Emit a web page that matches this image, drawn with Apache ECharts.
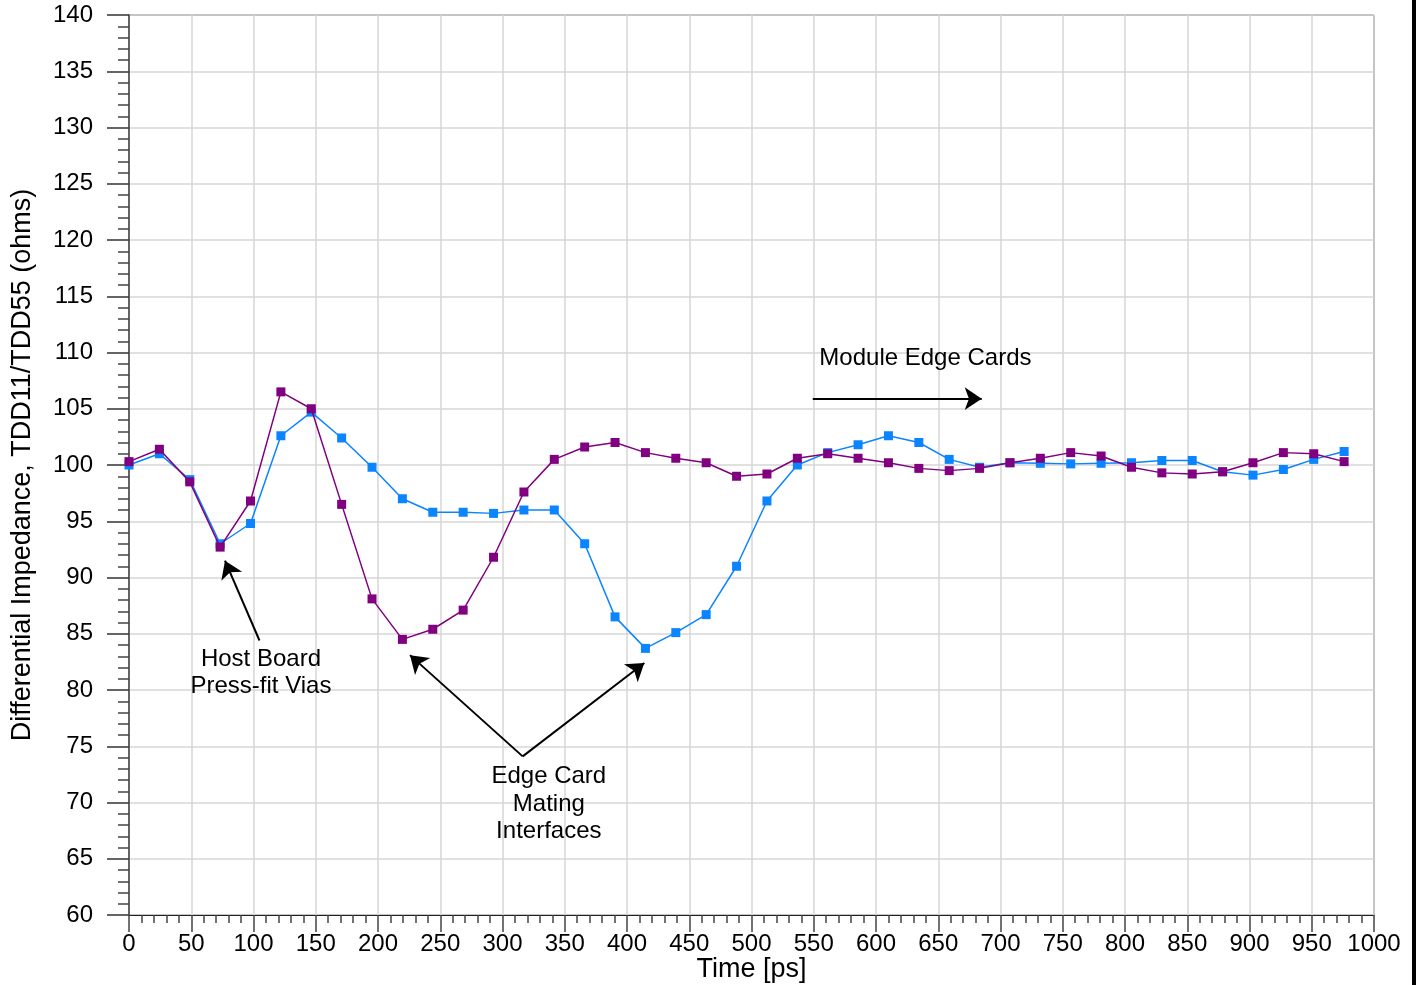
<!DOCTYPE html>
<html>
<head>
<meta charset="utf-8">
<script src="https://cdn.jsdelivr.net/npm/echarts@6/dist/echarts.min.js"></script>
<style>html,body{margin:0;padding:0;background:#fff;overflow:hidden;}#c{position:absolute;left:0;top:0;width:1416px;height:985px;}</style>
</head>
<body>
<div id="c"></div>
<script>
// Time samples (ps)
var times = [0, 24.4, 48.8, 73.2, 97.6, 122.0, 146.4, 170.8, 195.2, 219.6, 244.0, 268.4, 292.8, 317.2, 341.6, 366.0, 390.4, 414.8, 439.2, 463.6, 488.0, 512.4, 536.8, 561.2, 585.6, 610.0, 634.4, 658.8, 683.2, 707.6, 732.0, 756.4, 780.8, 805.2, 829.6, 854.0, 878.4, 902.8, 927.2, 951.6, 976.0];
// Blue trace (ohms)
var blueValues = [100.0, 101.0, 98.7, 93.0, 94.8, 102.6, 104.7, 102.4, 99.8, 97.0, 95.8, 95.8, 95.7, 96.0, 96.0, 93.0, 86.5, 83.7, 85.1, 86.7, 91.0, 96.8, 100.0, 101.1, 101.8, 102.6, 102.0, 100.5, 99.8, 100.2, 100.15, 100.1, 100.15, 100.2, 100.4, 100.4, 99.4, 99.1, 99.6, 100.5, 101.2];
// Purple trace (ohms)
var purpleValues = [100.3, 101.4, 98.5, 92.7, 96.8, 106.5, 105.0, 96.5, 88.1, 84.5, 85.4, 87.1, 91.8, 97.6, 100.5, 101.6, 102.0, 101.1, 100.6, 100.2, 99.0, 99.2, 100.6, 101.0, 100.6, 100.2, 99.7, 99.5, 99.7, 100.2, 100.6, 101.1, 100.8, 99.8, 99.3, 99.2, 99.4, 100.2, 101.1, 101.0, 100.3];
// Axis ranges
var xRange = [0, 1000, 50];
var yRange = [60, 140, 5];
// Annotation arrows in data coords: [from, to]
var arrows = [
  [[104.8, 84.4], [77.1, 91.5]],
  [[316.2, 74.1], [225.7, 83.1]],
  [[316.2, 74.1], [413.9, 82.4]],
  [[549.2, 105.9], [684.9, 105.9]]
];
// Annotation texts: [x, y, text, align]
var notes = [
  [106.0, 82.7, 'Host Board', 'center'],
  [106.0, 80.3, 'Press-fit Vias', 'center'],
  [337.2, 72.3, 'Edge Card', 'center'],
  [337.2, 69.8, 'Mating', 'center'],
  [337.2, 67.4, 'Interfaces', 'center'],
  [554.5, 109.5, 'Module Edge Cards', 'left']
];

function pairs(xs, ys) { return xs.map(function (x, i) { return [x, ys[i]]; }); }

var FONT = 'Liberation Sans, Arial, sans-serif';
var chart = echarts.init(document.getElementById('c'), null, {renderer: 'canvas', width: 1416, height: 985});
var option = {
  animation: false,
  backgroundColor: '#fff',
  grid: {left: 129, width: 1245, top: 15, height: 900, containLabel: false, outerBoundsMode: 'none',
    show: true, borderColor: '#222', borderWidth: 1},
  xAxis: {
    type: 'value', min: xRange[0], max: xRange[1], interval: xRange[2],
    name: 'Time [ps]', nameLocation: 'middle', nameGap: 41, nameMoveOverlap: false,
    nameTextStyle: {fontSize: 27, color: '#000', fontFamily: FONT},
    axisLine: {show: true, lineStyle: {color: '#222', width: 1}},
    axisTick: {show: true, inside: false, length: 17, lineStyle: {color: '#444', width: 1.5}},
    minorTick: {show: true, splitNumber: 5, length: 8, lineStyle: {color: '#444', width: 1.5}},
    axisLabel: {fontSize: 24, color: '#000', fontFamily: FONT, margin: 17,
      formatter: function (v) { return String(v); }},
    splitLine: {show: true, lineStyle: {color: '#d6d6d6', width: 1.5}}
  },
  yAxis: {
    type: 'value', min: yRange[0], max: yRange[1], interval: yRange[2],
    name: 'Differential Impedance, TDD11/TDD55 (ohms)', nameLocation: 'middle', nameGap: 93, nameMoveOverlap: false,
    nameTextStyle: {fontSize: 27, color: '#000', fontFamily: FONT},
    axisLine: {show: true, lineStyle: {color: '#444', width: 1.5}},
    axisTick: {show: true, inside: false, length: 22, lineStyle: {color: '#333', width: 1.5}},
    minorTick: {show: true, splitNumber: 5, length: 11, lineStyle: {color: '#444', width: 1.5}},
    axisLabel: {fontSize: 24, color: '#000', fontFamily: FONT, margin: 36},
    splitLine: {show: true, lineStyle: {color: '#d6d6d6', width: 1.5}}
  },
  series: [
    {
      type: 'line', data: pairs(times, blueValues), symbol: 'rect', symbolSize: 9,
      itemStyle: {color: '#0a84ff'}, lineStyle: {color: '#0a84ff', width: 1.5}, z: 3
    },
    {
      type: 'line', data: pairs(times, purpleValues), symbol: 'rect', symbolSize: 9,
      itemStyle: {color: '#800080'}, lineStyle: {color: '#800080', width: 1.5}, z: 4
    },
    {
      type: 'line', data: [], z: 5,
      markLine: {
        silent: true, symbol: ['none', 'arrow'], symbolSize: 17, animation: false,
        label: {show: false},
        lineStyle: {color: '#000', width: 2, type: 'solid'},
        data: arrows.map(function (a) { return [{coord: a[0]}, {coord: a[1]}]; })
      }
    }
  ]
};
chart.setOption(option);

var g = notes.map(function (n) {
  var p = chart.convertToPixel({gridIndex: 0}, [n[0], n[1]]);
  return {
    type: 'text', x: p[0], y: p[1], z: 10,
    style: {text: n[2], fontSize: 24, fill: '#000', fontFamily: FONT, align: n[3], verticalAlign: 'middle'}
  };
});
g.push({type: 'rect', shape: {x: 1412, y: 0, width: 4, height: 985}, style: {fill: '#000'}, z: 10});
chart.setOption({graphic: g});
</script>
</body>
</html>
